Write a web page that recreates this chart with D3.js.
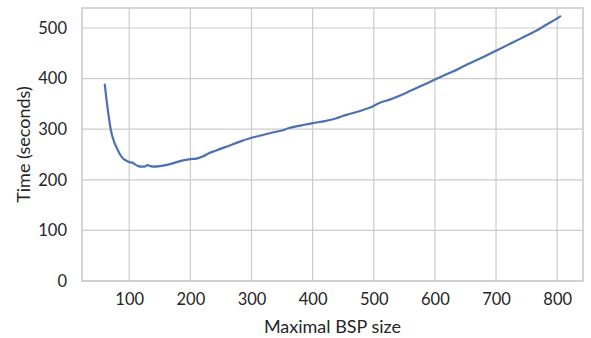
<!DOCTYPE html>
<html>
<head>
<meta charset="utf-8">
<script src="https://cdn.jsdelivr.net/npm/d3@7"></script>
<style>
  body { margin: 0; background: #fff; }
  text { font-family: Lato, "DejaVu Sans", sans-serif; fill: #262626; }
</style>
</head>
<body>
<div class="container"></div>
<script>
// BSP size vs run time
var bspSize = [60, 65, 70, 75, 80, 85, 90, 95, 100, 105, 110, 115, 120, 125, 130, 135, 140, 150,
    160, 170, 180, 190, 200, 210, 220, 231, 240, 258, 280, 300, 320, 340, 351, 360, 380, 400,
    420, 440, 449, 460, 480, 500, 509, 525, 540, 560, 580, 600, 620, 640, 651, 660, 680, 700,
    720, 740, 760, 768, 780, 800, 805];
var timeSec = [388, 338, 298, 276, 262, 250, 242, 238, 235, 234, 230, 227, 226, 226, 229, 227, 226, 227,
    229, 232, 236, 239, 241, 242, 246, 253, 257, 265, 275, 283, 289, 295, 298, 302, 307, 312,
    316, 322, 326, 330, 337, 346, 352, 358, 365, 376, 387, 398, 409, 420, 427, 432, 443, 455,
    467, 479, 491, 496, 505, 519, 523];
var xTicks = [100, 200, 300, 400, 500, 600, 700, 800];
var yTicks = [0, 100, 200, 300, 400, 500];

!function () {
    var width = 591, height = 338;
    var margin = {left: 82, right: 8, top: 8, bottom: 57};

    var svg = d3.select('.container')
        .append('svg')
        .attr('width', width)
        .attr('height', height);

    var x = d3.scaleLinear()
        .domain([22.75, 842.25])
        .range([margin.left, width - margin.right]);
    var y = d3.scaleLinear()
        .domain([0, 539.5])
        .range([height - margin.bottom, margin.top]);

    // grid
    svg.append('g')
        .selectAll('line')
        .data(xTicks)
        .enter()
        .append('line')
        .attr('x1', function (d) { return x(d); })
        .attr('x2', function (d) { return x(d); })
        .attr('y1', y.range()[0])
        .attr('y2', y.range()[1])
        .attr('stroke', '#cccccc')
        .attr('stroke-width', 1.2);
    svg.append('g')
        .selectAll('line')
        .data(yTicks)
        .enter()
        .append('line')
        .attr('y1', function (d) { return y(d); })
        .attr('y2', function (d) { return y(d); })
        .attr('x1', x.range()[0])
        .attr('x2', x.range()[1])
        .attr('stroke', '#cccccc')
        .attr('stroke-width', 1.2);

    // frame
    svg.append('rect')
        .attr('x', x.range()[0])
        .attr('y', y.range()[1])
        .attr('width', x.range()[1] - x.range()[0])
        .attr('height', y.range()[0] - y.range()[1])
        .attr('fill', 'none')
        .attr('stroke', '#cccccc')
        .attr('stroke-width', 1.6);

    // axes (labels only)
    var xAxis = d3.axisBottom(x).tickValues(xTicks).tickSize(0).tickPadding(12);
    var gx = svg.append('g')
        .attr('transform', 'translate(0,' + y.range()[0] + ')')
        .call(xAxis);
    var yAxis = d3.axisLeft(y).tickValues(yTicks).tickSize(0).tickPadding(15);
    var gy = svg.append('g')
        .attr('transform', 'translate(' + x.range()[0] + ',0)')
        .call(yAxis);
    [gx, gy].forEach(function (g) {
        g.select('.domain').remove();
        g.selectAll('text')
            .style('font-size', '16.5px')
            .attr('fill', '#262626');
    });

    // line
    var line = d3.line()
        .x(function (d) { return x(d[0]); })
        .y(function (d) { return y(d[1]); })
        .curve(d3.curveMonotoneX);
    svg.append('path')
        .datum(d3.zip(bspSize, timeSec))
        .attr('d', line)
        .attr('fill', 'none')
        .attr('stroke', '#4c72b0')
        .attr('stroke-width', 2.2)
        .attr('stroke-linejoin', 'round')
        .attr('stroke-linecap', 'round');

    svg.append('text')
        .attr('x', (x.range()[0] + x.range()[1]) / 2)
        .attr('y', 333)
        .attr('text-anchor', 'middle')
        .style('font-size', '18px')
        .text('Maximal BSP size');
    svg.append('text')
        .attr('transform', 'translate(30,' + (y.range()[0] + y.range()[1]) / 2 + ') rotate(-90)')
        .attr('text-anchor', 'middle')
        .style('font-size', '18px')
        .text('Time (seconds)');
}();
</script>
</body>
</html>
